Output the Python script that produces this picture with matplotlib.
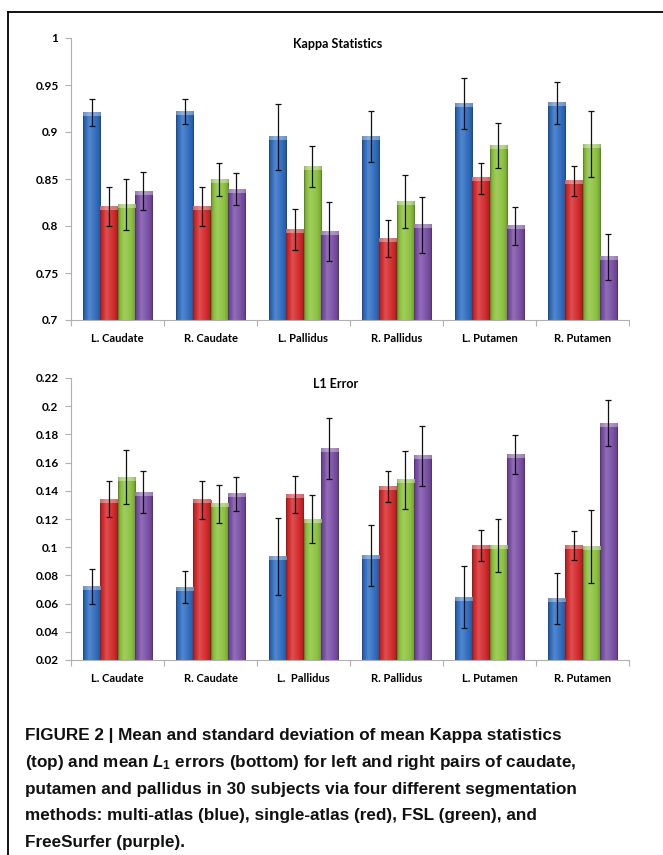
import numpy as np
import matplotlib
matplotlib.use("Agg")
import matplotlib.pyplot as plt
from matplotlib.colors import to_rgb

# data
regions_top = ['L. Caudate', 'R. Caudate', 'L. Pallidus', 'R. Pallidus', 'L. Putamen', 'R. Putamen']
regions_bot = ['L. Caudate', 'R. Caudate', 'L.  Pallidus', 'R. Pallidus', 'L. Putamen', 'R. Putamen']

kappa_multi = [0.921, 0.922, 0.895, 0.895, 0.930, 0.931]
kappa_single = [0.821, 0.821, 0.796, 0.787, 0.851, 0.848]
kappa_fsl = [0.823, 0.849, 0.863, 0.826, 0.886, 0.887]
kappa_fs = [0.837, 0.839, 0.794, 0.801, 0.800, 0.767]
kappa_multi_sd = [0.0145, 0.013, 0.035, 0.027, 0.027, 0.022]
kappa_single_sd = [0.021, 0.021, 0.022, 0.0195, 0.0165, 0.016]
kappa_fsl_sd = [0.027, 0.0175, 0.022, 0.0285, 0.024, 0.035]
kappa_fs_sd = [0.020, 0.017, 0.031, 0.030, 0.020, 0.0245]

l1_multi = [0.0723, 0.0716, 0.0934, 0.0943, 0.0645, 0.0635]
l1_single = [0.1341, 0.1334, 0.1372, 0.1433, 0.1012, 0.1014]
l1_fsl = [0.1497, 0.1308, 0.1199, 0.1476, 0.1012, 0.1005]
l1_fs = [0.139, 0.1379, 0.1698, 0.1648, 0.166, 0.188]
l1_multi_sd = [0.0123, 0.0114, 0.0272, 0.0215, 0.0221, 0.0183]
l1_single_sd = [0.0126, 0.0133, 0.0132, 0.011, 0.0108, 0.0102]
l1_fsl_sd = [0.019, 0.0133, 0.017, 0.0206, 0.0186, 0.0258]
l1_fs_sd = [0.015, 0.0122, 0.0215, 0.0212, 0.0138, 0.0162]

kappa_ticks = [0.7, 0.75, 0.8, 0.85, 0.9, 0.95, 1]
kappa_ticklabels = ['0.7', '0.75', '0.8', '0.85', '0.9', '0.95', '1']
l1_ticks = [0.02, 0.04, 0.06, 0.08, 0.1, 0.12, 0.14, 0.16, 0.18, 0.2, 0.22]
l1_ticklabels = ['0.02', '0.04', '0.06', '0.08', '0.1', '0.12', '0.14', '0.16', '0.18', '0.2', '0.22']

colors = ['#2f6dc0', '#d42a2c', '#8cc23e', '#7a4fa6']

caption = [
    "FIGURE 2 | Mean and standard deviation of mean Kappa statistics",
    "(top) and mean $\\mathit{L}_\\mathrm{1}$ errors (bottom) for left and right pairs of caudate,",
    "putamen and pallidus in 30 subjects via four different segmentation",
    "methods: multi-atlas (blue), single-atlas (red), FSL (green), and",
    "FreeSurfer (purple).",
]

plt.rcParams['font.family'] = ['Lato', 'DejaVu Sans']
plt.rcParams['mathtext.fontset'] = 'custom'
plt.rcParams['mathtext.rm'] = 'Liberation Sans:bold'
plt.rcParams['mathtext.it'] = 'Liberation Sans:bold:italic'


def shade(c, f):
    c = np.array(to_rgb(c))
    if f >= 1:
        return c + (1 - c) * (f - 1)
    return c * f


def bar_gradient(c):
    t = np.linspace(0, 1, 64)
    f = np.interp(t, [0, 0.08, 0.35, 0.75, 0.93, 1], [0.62, 0.9, 1.18, 1.0, 0.85, 0.6])
    return np.array([shade(c, v) for v in f])[None, :, :]


def draw_panel(ax, labels, series, errs, ymin, ymax, ticks, ticklabels):
    x = np.arange(len(labels))
    w = 0.185
    offs = [-1.5, -0.5, 0.5, 1.5]
    band = 0.012 * (ymax - ymin)
    for vals, sd, c, o in zip(series, errs, colors, offs):
        vals = np.array(vals)
        bars = ax.bar(x + o * w, vals - ymin, w, bottom=ymin, color=c, zorder=2,
                      edgecolor=shade(c, 0.75), linewidth=0.4)
        grad = bar_gradient(c)
        top = np.clip(grad[0] + (1 - grad[0]) * 0.35, 0, 1)[None, :, :]
        for p in bars:
            x0, y0 = p.get_x(), p.get_y()
            x1, y1 = x0 + p.get_width(), y0 + p.get_height()
            ax.imshow(grad, extent=(x0, x1, y0, y1), aspect='auto', zorder=2.1,
                      interpolation='bilinear')
            ax.imshow(top, extent=(x0, x1, y1 - band, y1), aspect='auto', zorder=2.2,
                      interpolation='bilinear')
        ax.errorbar(x + o * w, vals, yerr=sd, fmt='none', ecolor='#111111',
                    elinewidth=0.9, capsize=2.3, capthick=0.9, zorder=3)
    ax.set_xlim(-0.5, len(labels) - 0.5)
    ax.set_ylim(ymin, ymax)
    ax.set_yticks(ticks)
    ax.set_yticklabels(ticklabels, fontsize=8.5, fontweight='bold')
    ax.set_xticks(x)
    ax.set_xticklabels(labels, fontsize=8, fontweight='bold')
    ax.set_xticks(np.arange(len(labels) + 1) - 0.5, minor=True)
    ax.tick_params(axis='x', which='major', length=0, pad=9)
    ax.tick_params(axis='x', which='minor', length=4, color='#b0b0b0', width=0.8)
    ax.tick_params(axis='y', length=4, color='#b0b0b0', width=0.8, pad=5)
    for s in ['top', 'right']:
        ax.spines[s].set_visible(False)
    for s in ['left', 'bottom']:
        ax.spines[s].set_color('#b0b0b0')
        ax.spines[s].set_linewidth(0.8)


W, H = 663, 855
fig = plt.figure(figsize=(W / 100, H / 100), dpi=100)

ax1 = fig.add_axes([71 / W, 1 - 320 / H, 558 / W, 282 / H])
draw_panel(ax1, regions_top,
           [kappa_multi, kappa_single, kappa_fsl, kappa_fs],
           [kappa_multi_sd, kappa_single_sd, kappa_fsl_sd, kappa_fs_sd],
           0.7, 1.0, kappa_ticks, kappa_ticklabels)
fig.text(338 / W, 1 - 44 / H, 'Kappa Statistics', ha='center', va='center',
         fontsize=9, fontweight='bold')

ax2 = fig.add_axes([71 / W, 1 - 660 / H, 558 / W, 282 / H])
draw_panel(ax2, regions_bot,
           [l1_multi, l1_single, l1_fsl, l1_fs],
           [l1_multi_sd, l1_single_sd, l1_fsl_sd, l1_fs_sd],
           0.02, 0.22, l1_ticks, l1_ticklabels)
fig.text(336 / W, 1 - 384 / H, 'L1 Error', ha='center', va='center',
         fontsize=9, fontweight='bold')

# caption
line_y = [735, 762, 789, 815, 842]
for s, yy in zip(caption, line_y):
    fig.text(25 / W, 1 - yy / H, s, ha='left', va='center', fontsize=12.3,
             fontweight='bold', family=['Liberation Sans', 'DejaVu Sans'],
             color='#111111')

# page frame (top and left edges)
fig.add_artist(plt.Line2D([8 / W, 1], [1 - 12 / H, 1 - 12 / H], color='black', lw=1.3))
fig.add_artist(plt.Line2D([8 / W, 8 / W], [0, 1 - 12 / H], color='black', lw=1.3))

fig.savefig('out.png', dpi=100)
